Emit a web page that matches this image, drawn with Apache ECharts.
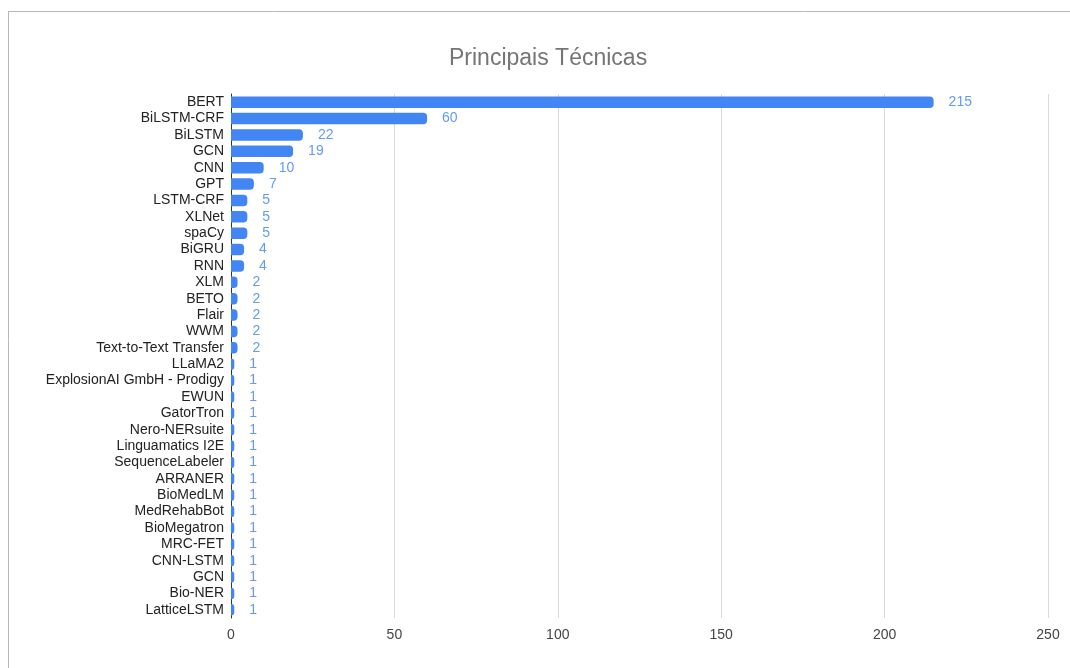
<!DOCTYPE html>
<html>
<head>
<meta charset="utf-8">
<script src="https://cdn.jsdelivr.net/npm/echarts@6/dist/echarts.min.js"></script>
<style>
html,body{margin:0;padding:0;background:#fff;}
#c{width:1070px;height:668px;}
</style>
</head>
<body>
<div id="c"></div>
<script>
const categories = ["BERT","BiLSTM-CRF","BiLSTM","GCN","CNN","GPT","LSTM-CRF","XLNet","spaCy","BiGRU","RNN","XLM","BETO","Flair","WWM","Text-to-Text Transfer","LLaMA2","ExplosionAI GmbH - Prodigy","EWUN","GatorTron","Nero-NERsuite","Linguamatics I2E","SequenceLabeler","ARRANER","BioMedLM","MedRehabBot","BioMegatron","MRC-FET","CNN-LSTM","GCN","Bio-NER","LatticeLSTM"];
const values = [215,60,22,19,10,7,5,5,5,4,4,2,2,2,2,2,1,1,1,1,1,1,1,1,1,1,1,1,1,1,1,1];
const xTicks = [0,50,100,150,200,250];

const FONT = '"Liberation Sans", Arial, sans-serif';
const chart = echarts.init(document.getElementById('c'));
chart.setOption({
  animation:false,
  backgroundColor:'#fff',
  textStyle:{fontFamily:FONT},
  title:{text:'Principais Técnicas',left:444,top:42,
    textStyle:{fontFamily:FONT,fontSize:23,fontWeight:'normal',color:'#757575'}},
  graphic:[
    {type:'line',shape:{x1:8,y1:11.5,x2:1070,y2:11.5},style:{stroke:'#b7b7b7',lineWidth:1}},
    {type:'line',shape:{x1:8.5,y1:11,x2:8.5,y2:668},style:{stroke:'#b7b7b7',lineWidth:1}}
  ],
  grid:{left:231,right:22,top:94,bottom:50},
  xAxis:{type:'value',min:xTicks[0],max:xTicks[xTicks.length-1],interval:50,
    axisLine:{show:false},axisTick:{show:false},
    axisLabel:{color:'#444',fontSize:14,margin:10,fontFamily:FONT},
    splitLine:{lineStyle:{color:'#d9d9d9'}}},
  yAxis:{type:'category',data:categories,inverse:true,
    axisLine:{lineStyle:{color:'#333'}},axisTick:{show:false},
    axisLabel:{color:'#222',fontSize:14,margin:7,interval:0,fontFamily:FONT}},
  series:[{type:'bar',data:values,barCategoryGap:'30%',
    itemStyle:{color:'#4285f4',borderRadius:[0,4,4,0]},
    label:{show:true,position:'right',distance:15,color:'#639af5',fontSize:14,fontFamily:FONT}}]
});
</script>
</body>
</html>
